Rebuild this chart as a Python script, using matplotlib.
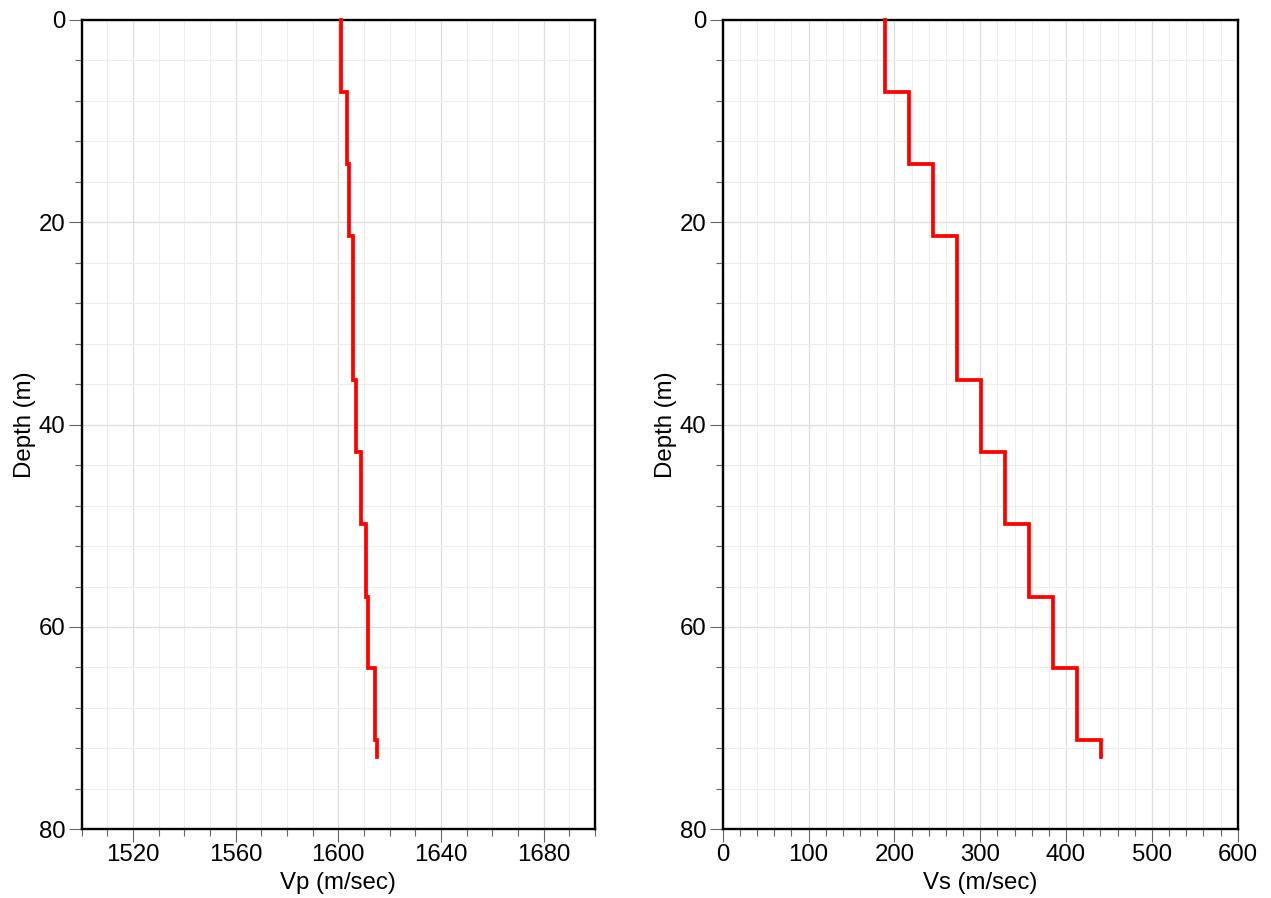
import matplotlib
matplotlib.use("Agg")
import matplotlib.pyplot as plt
from matplotlib.ticker import MultipleLocator, FixedLocator
import numpy as np

plt.rcParams['font.family'] = ['Liberation Sans', 'DejaVu Sans']

# Layer boundaries (m): tops of each layer, plus final bottom
layer_tops = [0.0, 7.1, 14.2, 21.4, 35.6, 42.7, 49.8, 57.0, 64.1, 71.2]
bottom_depth = 72.9
vp = [1600.9, 1603.2, 1604.3, 1605.6, 1606.9, 1608.9, 1610.7, 1611.7, 1614.1, 1615.0]
vs = [189, 217, 245, 273, 301, 329, 357, 385, 413, 441]

vp_ticks = [1520, 1560, 1600, 1640, 1680]
vs_ticks = [0, 100, 200, 300, 400, 500, 600]
depth_ticks = [0, 20, 40, 60, 80]


def profile(vals):
    bots = layer_tops[1:] + [bottom_depth]
    xs, ys = [], []
    for v, t, b in zip(vals, layer_tops, bots):
        xs += [v, v]
        ys += [t, b]
    return xs, ys


fig = plt.figure(figsize=(12.71, 8.98), dpi=100)
ax1 = fig.add_axes([81.7 / 1271, 1 - 829.3 / 898, 513.3 / 1271, 809.3 / 898])
ax2 = fig.add_axes([722.7 / 1271, 1 - 829.3 / 898, 515.0 / 1271, 809.3 / 898])

FS = 17.3
configs = [
    (ax1, vp, (1500, 1700), vp_ticks, 10, 'Vp (m/sec)'),
    (ax2, vs, (0, 600), vs_ticks, 20, 'Vs (m/sec)'),
]
for ax, vals, xl, xt, xminor, xlabel in configs:
    ax.set_xlim(*xl)
    ax.set_ylim(80, 0)
    ax.xaxis.set_major_locator(FixedLocator(xt))
    ax.xaxis.set_minor_locator(MultipleLocator(xminor))
    ax.yaxis.set_major_locator(FixedLocator(depth_ticks))
    ax.yaxis.set_minor_locator(MultipleLocator(4))
    ax.grid(which='minor', color='#ededed', linewidth=0.8, zorder=0)
    ax.grid(which='major', color='#dedede', linewidth=0.9, zorder=0)
    ax.set_axisbelow(True)
    ax.tick_params(which='major', direction='out', length=9.3, width=0.8,
                   color='#666666', labelsize=FS, pad=1.0)
    ax.tick_params(axis='y', which='major', pad=2.2)
    ax.tick_params(which='minor', direction='out', length=4.8, width=0.8,
                   color='#666666')
    for s in ax.spines.values():
        s.set_linewidth(1.7)
        s.set_color('black')
    xs, ys = profile(vals)
    ax.plot(xs, ys, color='#ff0000', linewidth=2.7, solid_joinstyle='miter',
            zorder=3, clip_on=False)
    ax.set_xlabel(xlabel, fontsize=FS, labelpad=4.5)
    ax.set_ylabel('Depth (m)', fontsize=FS, labelpad=2)

fig.savefig('out.png', dpi=100)
